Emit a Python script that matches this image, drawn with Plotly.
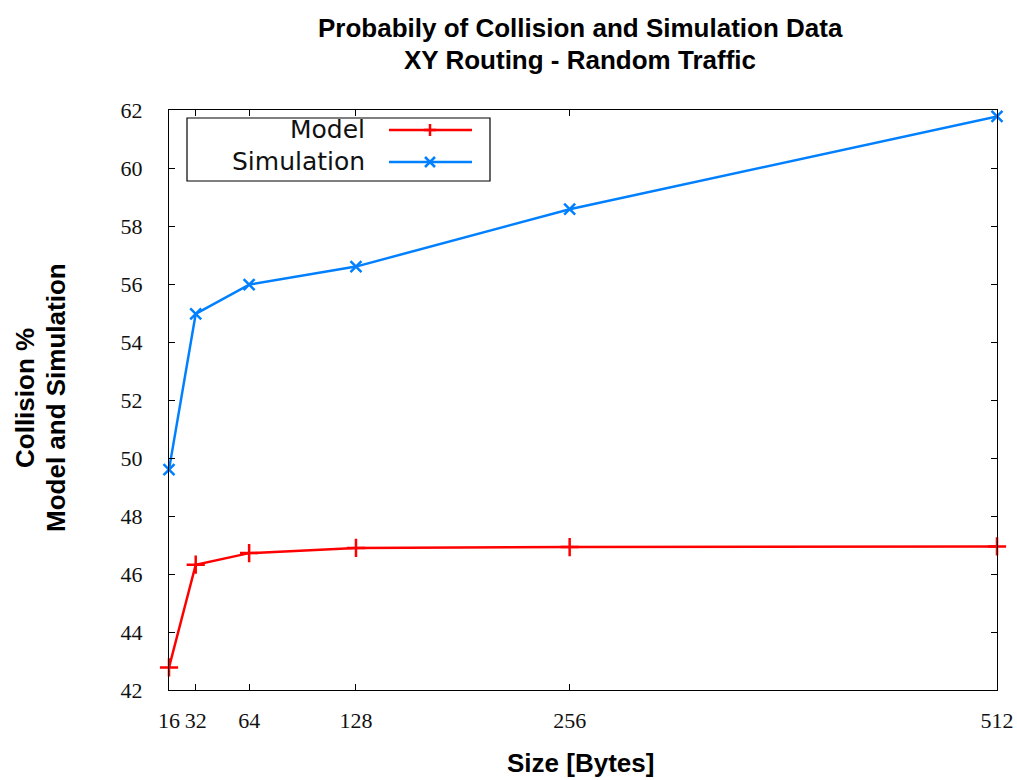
import plotly.graph_objects as go

sizes = [16, 32, 64, 128, 256, 512]
model = [42.78, 46.32, 46.72, 46.9, 46.93, 46.95]
simulation = [49.6, 54.97, 55.98, 56.6, 58.58, 61.78]
y_ticks = list(range(42, 63, 2))
x_ticks = [16, 32, 64, 128, 256, 512]

RED = "#ff0000"
BLUE = "#0080ff"

W, H = 1017, 780
L, R, T, B = 169, 20, 110, 90
PW, PH = W - L - R, H - T - B

def px(x):
    return (x - L) / PW

def py(y):
    return (H - B - y) / PH

fig = go.Figure()
fig.add_trace(go.Scatter(
    x=sizes, y=model, mode="lines+markers", name="Model",
    line=dict(color=RED, width=2.5),
    marker=dict(symbol="cross-thin", size=13, line=dict(color=RED, width=2.5)),
    cliponaxis=False, showlegend=False))
fig.add_trace(go.Scatter(
    x=sizes, y=simulation, mode="lines+markers", name="Simulation",
    line=dict(color=BLUE, width=2.5),
    marker=dict(symbol="x-thin", size=11, line=dict(color=BLUE, width=2.5)),
    cliponaxis=False, showlegend=False))

SANS_B = dict(family="Liberation Sans", size=26, color="black", weight="bold")

shapes = []
annotations = []
# custom legend
shapes.append(dict(type="rect", xref="paper", yref="paper",
                   x0=px(187), x1=px(490), y0=py(181), y1=py(118),
                   line=dict(color="black", width=1.2), fillcolor="white", layer="above"))
for name, color, ypix, sym in [("Model", RED, 130, "plus"), ("Simulation", BLUE, 162, "x")]:
    annotations.append(dict(text=name, xref="paper", yref="paper", x=px(367), y=py(ypix),
                            xanchor="right", yanchor="middle", showarrow=False,
                            font=dict(family="DejaVu Sans", size=25, color="#111111")))
    shapes.append(dict(type="line", xref="paper", yref="paper",
                       x0=px(389), x1=px(472), y0=py(ypix), y1=py(ypix),
                       line=dict(color=color, width=2.5), layer="above"))
    cx, cy = px(430), py(ypix)
    if sym == "plus":
        segs = [(-6, 0, 6, 0), (0, -6, 0, 6)]
    else:
        segs = [(-5, -5, 5, 5), (-5, 5, 5, -5)]
    for a, b, c, d in segs:
        shapes.append(dict(type="line", xref="paper", yref="paper",
                           xsizemode="pixel", ysizemode="pixel",
                           xanchor=cx, yanchor=cy,
                           x0=a, x1=c, y0=b, y1=d,
                           line=dict(color=color, width=2.5), layer="above"))

# title lines
for text, ypix in [("Probabily of Collision and Simulation Data", 28),
                   ("XY Routing - Random Traffic", 60)]:
    annotations.append(dict(text=text, xref="paper", yref="paper", x=px(580), y=py(ypix),
                            xanchor="center", yanchor="middle", showarrow=False, font=SANS_B))
# y-axis title lines
for text, xpix in [("Collision %", 25), ("Model and Simulation", 56)]:
    annotations.append(dict(text=text, xref="paper", yref="paper", x=px(xpix), y=py(398),
                            xanchor="center", yanchor="middle", textangle=-90,
                            showarrow=False, font=SANS_B))
# x-axis title
annotations.append(dict(text="Size [Bytes]", xref="paper", yref="paper", x=px(580), y=py(763),
                        xanchor="center", yanchor="middle", showarrow=False, font=SANS_B))

fig.update_layout(
    width=W, height=H,
    margin=dict(l=L, r=R, t=T, b=B, autoexpand=False),
    plot_bgcolor="white", paper_bgcolor="white",
    shapes=shapes, annotations=annotations,
)
fig.update_xaxes(
    range=[16, 512], tickvals=x_ticks, ticktext=[str(v) for v in x_ticks],
    automargin=False,
    showgrid=False, zeroline=False, showline=True, linecolor="black", linewidth=1.2,
    mirror="ticks", ticks="inside", ticklen=6, tickcolor="black", tickwidth=1.2,
    ticklabelstandoff=10,
    tickfont=dict(family="Liberation Serif", size=22, color="#111111"),
)
fig.update_yaxes(
    range=[42, 62], tickvals=y_ticks,
    automargin=False,
    showgrid=False, zeroline=False, showline=True, linecolor="black", linewidth=1.2,
    mirror="ticks", ticks="inside", ticklen=6, tickcolor="black", tickwidth=1.2,
    ticklabelstandoff=21,
    tickfont=dict(family="Liberation Serif", size=22, color="#111111"),
)

fig.write_html("out.html")
